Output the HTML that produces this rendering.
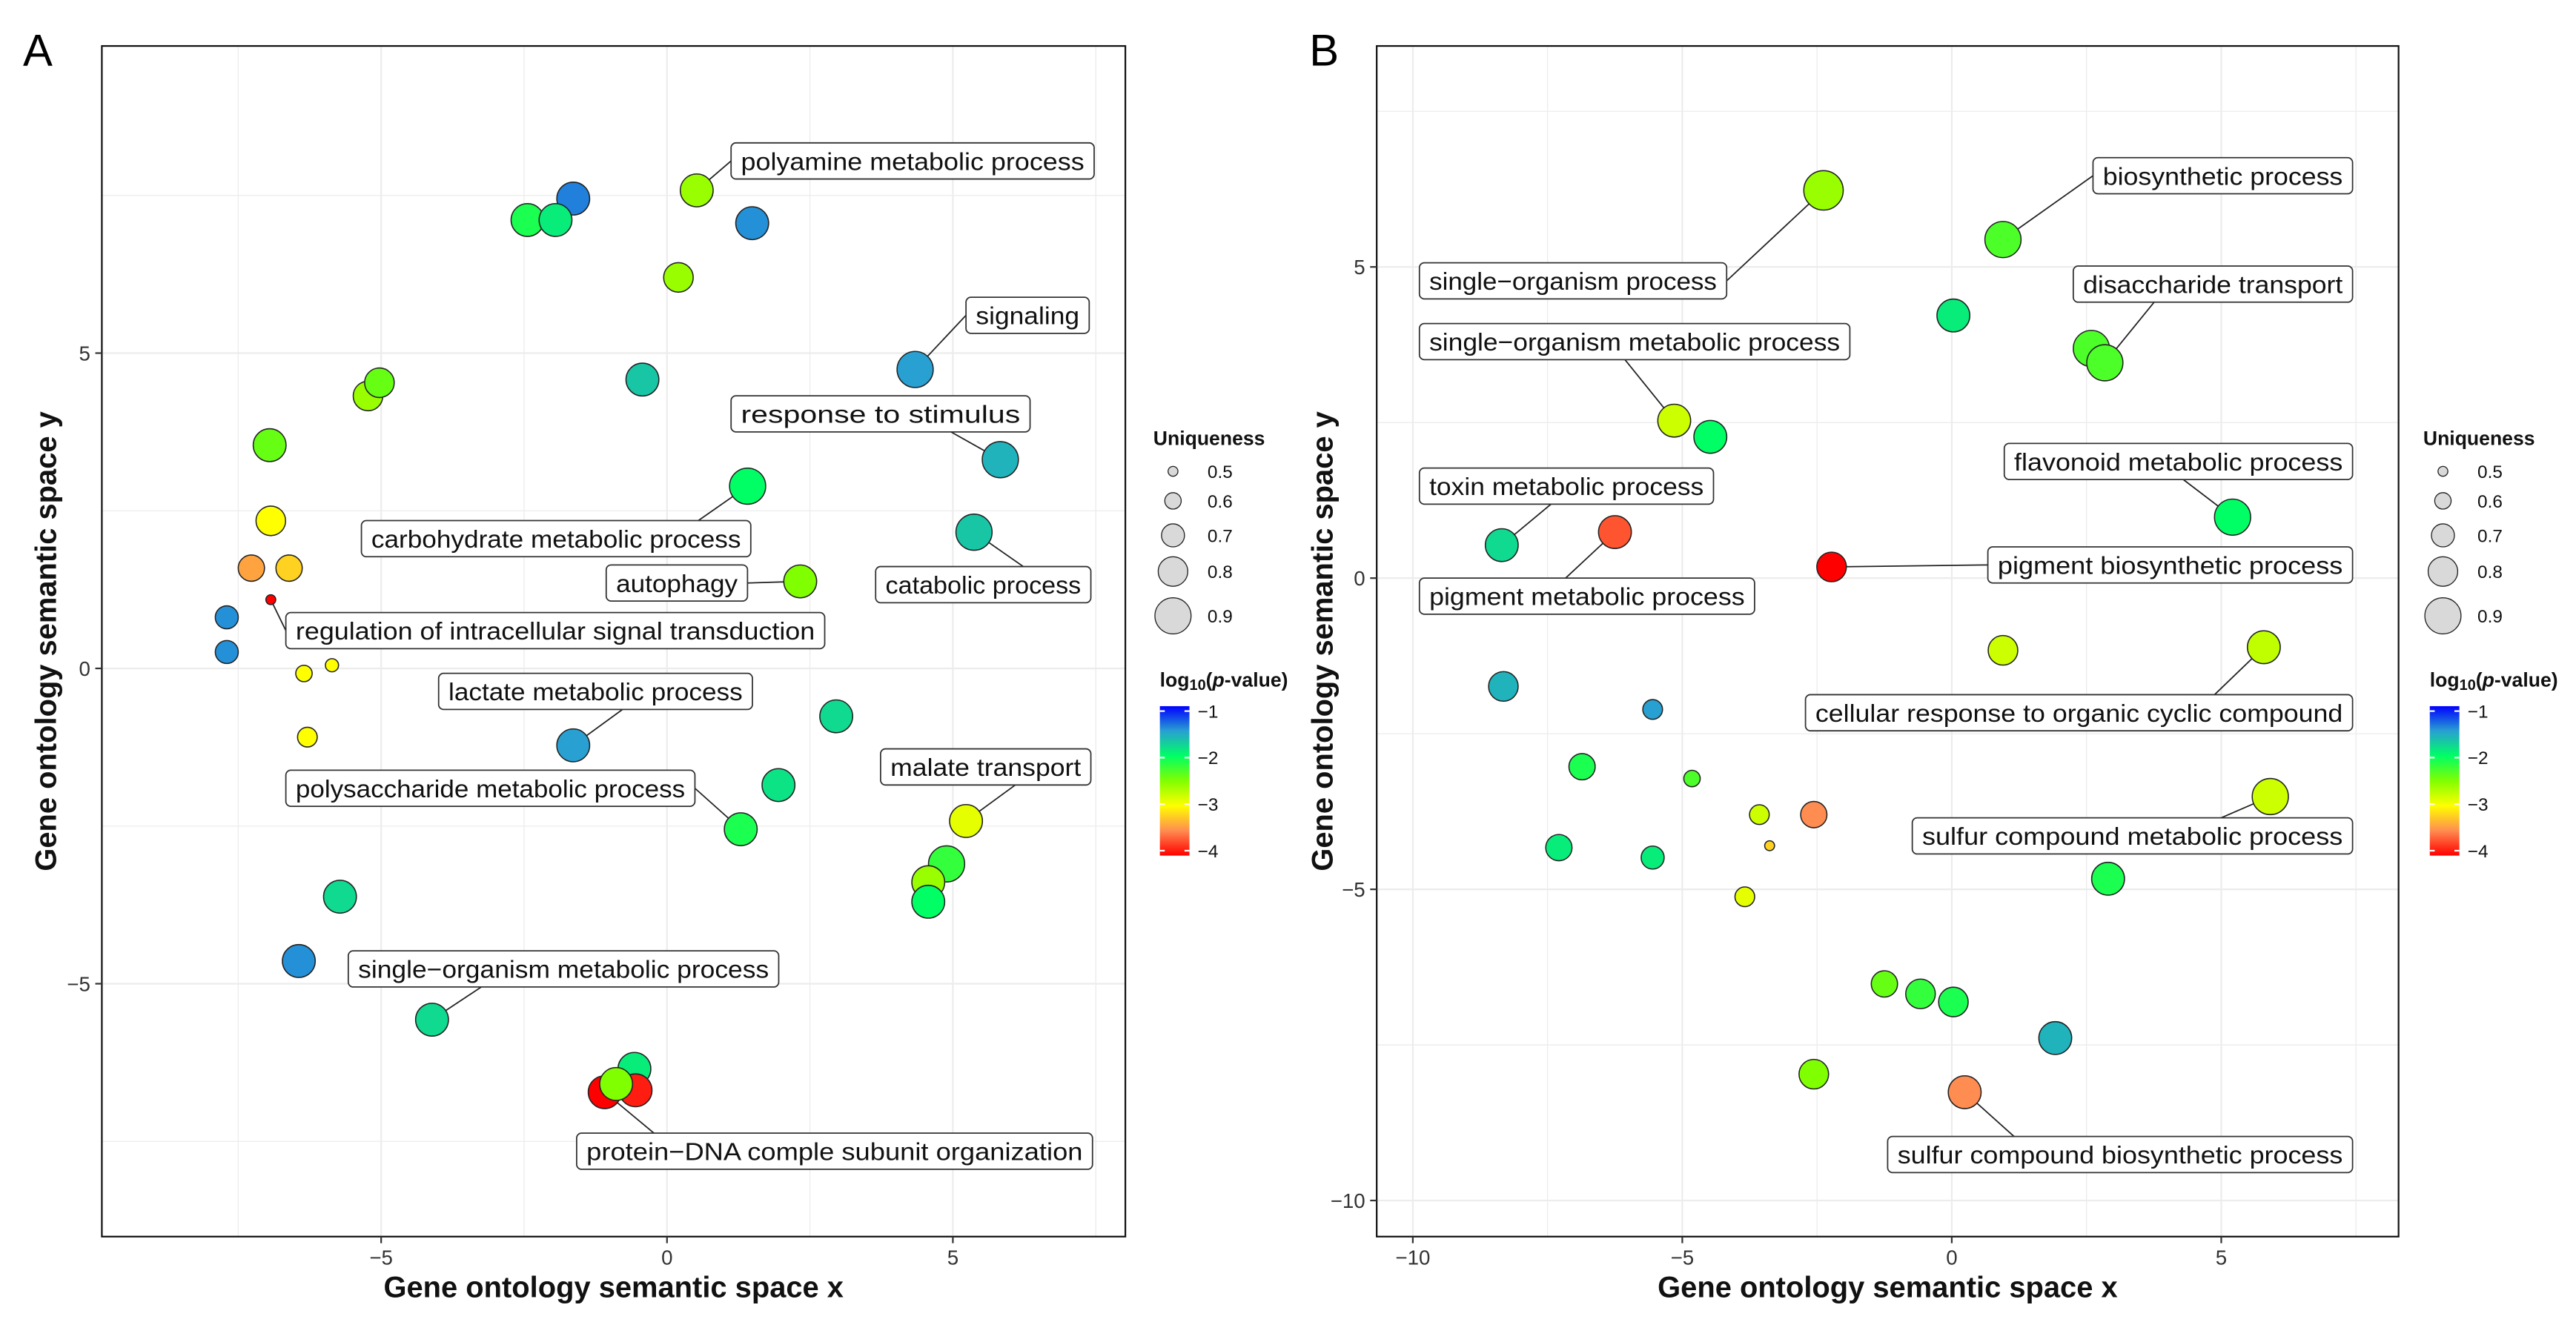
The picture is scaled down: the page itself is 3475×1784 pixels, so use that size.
<!DOCTYPE html>
<html><head><meta charset="utf-8"><style>
html,body{margin:0;padding:0;background:#fff;}
svg{display:block;}
text{font-family:"Liberation Sans",sans-serif;}
</style></head><body>
<svg id="fig" width="3475" height="1784" viewBox="0 0 1568 805" preserveAspectRatio="none" xmlns="http://www.w3.org/2000/svg">
<rect width="1568" height="805" fill="#fff"/>
<g id="A"></g>
<g id="B"></g>
<g id="LA"></g>
<g id="LB"></g>
</svg>
<script>
// ---- Panel A data ----
const aX=[0.52,-1.64,-2.44,-1.95,1.49,0.2,4.34,-0.43,-5.23,-5.03,-6.95,5.83,1.41,-6.93,-7.27,-6.61,5.37,2.33,-6.93,-7.70,-7.70,-6.35,-5.86,-6.29,-1.64,2.96,1.95,1.29,5.23,4.89,4.57,4.57,-5.72,-6.44,-4.11,-0.57,-1.09,-0.55,-0.89];
const aY=[7.58,7.45,7.11,7.11,7.06,6.2,4.74,4.58,4.32,4.53,3.54,3.31,2.89,2.34,1.59,1.59,2.16,1.38,1.09,0.81,0.26,-0.08,0.05,-1.09,-1.22,-0.76,-1.85,-2.55,-2.42,-3.1,-3.39,-3.7,-3.62,-4.64,-5.57,-6.35,-6.72,-6.69,-6.59];
const aP=[-2.6,-1.4,-2.1,-1.9,-1.45,-2.6,-1.5,-1.7,-2.6,-2.4,-2.4,-1.6,-2.0,-3.0,-3.4,-3.2,-1.7,-2.5,-4.0,-1.45,-1.45,-3.0,-3.0,-3.0,-1.5,-1.8,-1.85,-2.1,-2.9,-2.2,-2.6,-2.0,-1.8,-1.45,-1.8,-1.9,-4.0,-3.9,-2.5];
const aU=[0.85,0.85,0.85,0.85,0.85,0.8,0.9,0.85,0.8,0.8,0.85,0.9,0.9,0.8,0.75,0.75,0.9,0.85,0.5,0.7,0.7,0.6,0.55,0.65,0.85,0.85,0.85,0.85,0.85,0.9,0.85,0.85,0.85,0.85,0.85,0.85,0.85,0.85,0.85];
const aLabels=["polyamine metabolic process","signaling","response to stimulus","carbohydrate metabolic process","autophagy","catabolic process","regulation of intracellular signal transduction","lactate metabolic process","polysaccharide metabolic process","malate transport","single\u2212organism metabolic process","protein\u2212DNA comple subunit organization"];
const aLabelPt=[0,6,11,12,17,16,18,24,27,28,34,36];
const aBox=[[445,87,221],[588,181,75],[445,241,182],[220,317,237],[369,344,86],[533,345,131],[174,373,328],[267,410,191],[174,469,249],[536,456,128],[212,579,262],[351,690,314]];
// ---- Panel B data ----
const bX=[-2.38,0.95,0.03,2.59,2.84,-5.15,-4.48,5.21,-8.35,-6.25,-2.23,0.95,5.79,-8.32,-5.55,-6.86,-4.82,-2.56,-3.57,-3.38,5.91,-7.29,-5.55,-3.84,2.9,-1.25,-0.58,0.03,1.92,-2.56,0.24];
const bY=[6.23,5.44,4.22,3.69,3.46,2.53,2.27,0.98,0.53,0.74,0.18,-1.16,-1.11,-1.74,-2.11,-3.03,-3.22,-3.8,-3.8,-4.3,-3.51,-4.33,-4.49,-5.12,-4.83,-6.52,-6.68,-6.81,-7.39,-7.97,-8.26];
const bP=[-2.6,-2.3,-1.9,-2.3,-2.3,-2.8,-2.0,-2.0,-1.8,-3.7,-4.0,-2.8,-2.75,-1.6,-1.5,-2.1,-2.3,-3.5,-2.8,-3.2,-2.8,-1.9,-1.9,-2.9,-2.1,-2.4,-2.2,-2.1,-1.6,-2.5,-3.5];
const bU=[0.95,0.9,0.85,0.9,0.9,0.85,0.85,0.9,0.85,0.85,0.8,0.8,0.85,0.8,0.65,0.75,0.6,0.75,0.65,0.5,0.9,0.75,0.7,0.65,0.85,0.75,0.8,0.8,0.85,0.8,0.85];
const bLabels=["biosynthetic process","single\u2212organism process","disaccharide transport","single\u2212organism metabolic process","flavonoid metabolic process","toxin metabolic process","pigment biosynthetic process","pigment metabolic process","cellular response to organic cyclic compound","sulfur compound metabolic process","sulfur compound biosynthetic process"];
const bLabelPt=[1,0,4,5,7,8,10,9,12,20,30];
const bBox=[[1274,96,158],[864,160,187],[1262,162,170],[864,197,262],[1220,270,212],[864,285,179],[1210,333,222],[864,352,204],[1099,423,333],[1164,498,268],[1149,692,283]];
const legU=[0.5,0.6,0.7,0.8,0.9];
const legP=[-1,-2,-3,-4];

const NS="http://www.w3.org/2000/svg";
function mk(tag,attrs,parent){const e=document.createElementNS(NS,tag);for(const k in attrs)e.setAttribute(k,attrs[k]);parent.appendChild(e);return e;}
const stops=[[-4,[255,0,0]],[-3.5,[255,140,80]],[-3,[255,255,0]],[-2.5,[128,255,0]],[-2,[0,255,100]],[-1.5,[40,160,210]],[-1,[0,0,255]]];
function col(p){p=Math.max(-4,Math.min(-1,p));for(let i=0;i<stops.length-1;i++){const [a,ca]=stops[i],[b,cb]=stops[i+1];if(p<=b){const t=(p-a)/(b-a);return "rgb("+ca.map((c,j)=>Math.round(c+(cb[j]-c)*t)).join(",")+")";}}return "rgb(0,0,255)";}
function rad(u){return 3+(u-0.5)*20;}

function panel(g,cfg){
  const {x0,x1,y0,y1,xmin,xmax,ymin,ymax}=cfg;
  const sx=v=>x0+(v-xmin)/(xmax-xmin)*(x1-x0);
  const sy=v=>y1-(v-ymin)/(ymax-ymin)*(y1-y0);
  for(const v of cfg.xgrid){const l=mk('line',{x1:sx(v),x2:sx(v),y1:y0,y2:y1,stroke:'#ececec','stroke-width':cfg.xmaj.includes(v)?1:0.6},g);}
  for(const v of cfg.ygrid){const l=mk('line',{y1:sy(v),y2:sy(v),x1:x0,x2:x1,stroke:'#ececec','stroke-width':cfg.ymaj.includes(v)?1:0.6},g);}
  cfg.lp.forEach((pi,i)=>{const [bx,by,bw]=cfg.box[i];const px=sx(cfg.X[pi]),py=sy(cfg.Y[pi]);
    let ax,ay;
    if(px<bx){ax=bx;ay=by+11;}else if(px>bx+bw){ax=bx+bw;ay=by+11;}else{ax=Math.max(bx+8,Math.min(bx+bw-8,px+(px<bx+bw/2?30:-30)));ay=py<by?by:by+22;}
    const l=mk('line',{x1:px,y1:py,x2:ax,y2:ay,stroke:'#222','stroke-width':0.8},g);
    });
  cfg.X.forEach((v,i)=>{const c=mk('circle',{cx:sx(v),cy:sy(cfg.Y[i]),r:rad(cfg.U[i]),fill:col(cfg.P[i]),stroke:'#222','stroke-width':0.7},g);
    });
  cfg.lp.forEach((pi,i)=>{const [bx,by,bw]=cfg.box[i];
    const r=mk('rect',{x:bx,y:by,width:bw,height:22,rx:3,fill:'#fff',stroke:'#333','stroke-width':0.8},g);
    
    const t=mk('text',{x:bx+6,y:by+16.5,'font-size':15,fill:'#111',textLength:bw-12,lengthAdjust:'spacingAndGlyphs'},g);
    t.textContent=cfg.labels[i];});
  const fr=mk('rect',{x:x0,y:y0,width:x1-x0,height:y1-y0,fill:'none',stroke:'#111','stroke-width':1},g);
  
  for(const v of cfg.xmaj){mk('line',{x1:sx(v),x2:sx(v),y1:y1,y2:y1+4,stroke:'#333'},g);
    const t=mk('text',{x:sx(v),y:y1+17,'font-size':12.5,'text-anchor':'middle',fill:'#333'},g);t.textContent=(v<0?'\u2212':'')+Math.abs(v);
    }
  for(const v of cfg.ymaj){mk('line',{x1:x0-4,x2:x0,y1:sy(v),y2:sy(v),stroke:'#333'},g);
    const t=mk('text',{x:x0-7,y:sy(v)+4.5,'font-size':12.5,'text-anchor':'end',fill:'#333'},g);t.textContent=(v<0?'\u2212':'')+Math.abs(v);
    }
  const xt=mk('text',{x:(x0+x1)/2,y:790,'font-size':18,'font-weight':'bold','text-anchor':'middle',fill:'#111'},g);
  xt.textContent='Gene ontology semantic space x';
  const cy=(y0+y1)/2,cx=cfg.ytx;
  const yt=mk('text',{x:cx,y:cy,'font-size':18,'font-weight':'bold','text-anchor':'middle',fill:'#111',transform:`rotate(-90 ${cx} ${cy})`},g);
  yt.textContent='Gene ontology semantic space y';
  const pl=mk('text',{x:cfg.lx,y:40,'font-size':27,fill:'#000'},g);pl.textContent=cfg.letter;
  
}
panel(document.getElementById('A'),{x0:62,x1:685,y0:28,y1:753,xmin:-9.885,xmax:8.017,ymin:-9.01,ymax:9.87,
  xgrid:[-7.5,-5,-2.5,0,2.5,5,7.5],xmaj:[-5,0,5],ygrid:[-7.5,-5,-2.5,0,2.5,5,7.5],ymaj:[-5,0,5],
  X:aX,Y:aY,P:aP,U:aU,labels:aLabels,lp:aLabelPt,box:aBox,ytx:34,lx:14,letter:'A'});
panel(document.getElementById('B'),{x0:838,x1:1460,y0:28,y1:753,xmin:-10.67,xmax:8.29,ymin:-10.58,ymax:8.55,
  xgrid:[-10,-7.5,-5,-2.5,0,2.5,5,7.5],xmaj:[-10,-5,0,5],ygrid:[-10,-7.5,-5,-2.5,0,2.5,5,7.5],ymaj:[-10,-5,0,5],
  X:bX,Y:bY,P:bP,U:bU,labels:bLabels,lp:bLabelPt,box:bBox,ytx:811,lx:797,letter:'B'});

function legend(g,lx){
  const t=mk('text',{x:lx,y:271,'font-size':12,'font-weight':'bold',fill:'#111'},g);t.textContent='Uniqueness';
  
  const ys=[287,305,326,348,375];
  legU.forEach((u,i)=>{const c=mk('circle',{cx:lx+12,cy:ys[i],r:rad(u),fill:'#d9d9d9',stroke:'#222','stroke-width':0.6},g);
    
    const tt=mk('text',{x:lx+33,y:ys[i]+4,'font-size':11,fill:'#111'},g);tt.textContent=u.toFixed(1);
    });
  const t2=mk('text',{x:lx+4,y:418,'font-size':12,'font-weight':'bold',fill:'#111'},g);
  t2.innerHTML='log<tspan font-size="9" dy="2">10</tspan><tspan dy="-2">(</tspan><tspan font-style="italic">p</tspan>-value)';
  
  const id='grad'+lx;const defs=mk('defs',{},g);const gr=mk('linearGradient',{id:id,x1:0,y1:0,x2:0,y2:1},defs);
  stops.slice().reverse().forEach((s,i)=>{mk('stop',{offset:(i/6),'stop-color':col(s[0])},gr);});
  const r=mk('rect',{x:lx+4,y:430,width:18,height:91,fill:`url(#${id})`},g);
  
  legP.forEach(p=>{const yy=433+(-1-p)/3*85;
    mk('line',{x1:lx+4,x2:lx+7,y1:yy,y2:yy,stroke:'#fff'},g);mk('line',{x1:lx+19,x2:lx+22,y1:yy,y2:yy,stroke:'#fff'},g);
    const tt=mk('text',{x:lx+27,y:yy+4,'font-size':11,fill:'#111'},g);tt.textContent='\u2212'+Math.abs(p);
    });
}
legend(document.getElementById('LA'),702);
legend(document.getElementById('LB'),1475);
</script>
</body></html>
